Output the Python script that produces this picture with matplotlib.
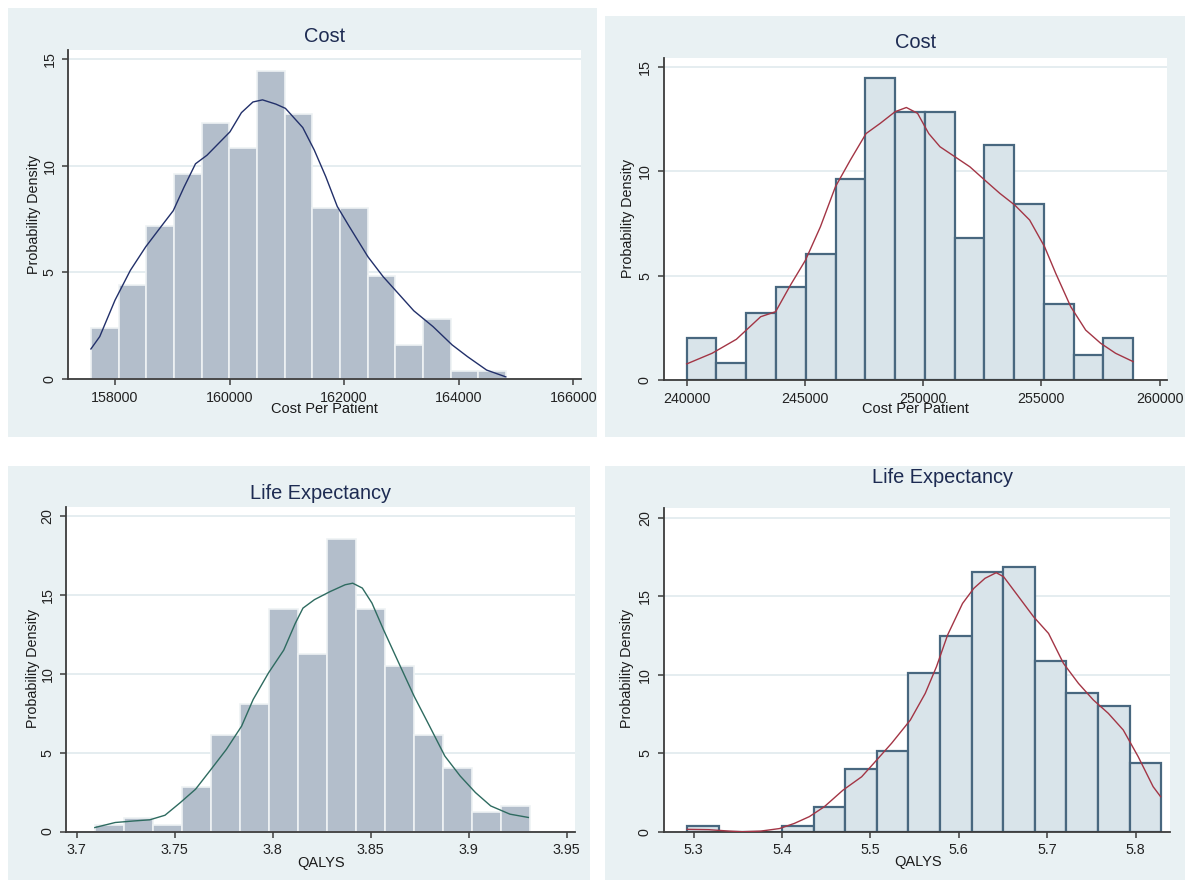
import numpy as np
import matplotlib
matplotlib.use("Agg")
import matplotlib.pyplot as plt
from matplotlib.patches import Rectangle
from matplotlib.ticker import FixedLocator, FormatStrFormatter

plt.rcParams['font.family'] = ['Liberation Sans', 'DejaVu Sans']

# ---- histogram data (density per bin) ----
cost_a_start, cost_a_width = 157579, 483
cost_a_density = [2.38, 4.41, 7.2, 9.62, 12.03, 10.83, 14.44, 12.44,
                  8.01, 8.01, 4.82, 1.6, 2.8, 0.39, 0.39]
cost_a_kde_x = [157579, 157733, 158000, 158268, 158535, 158803, 159017,
                159204, 159405, 159605, 160007, 160207, 160408, 160575,
                160809, 160976, 161278, 161478, 161679, 161880, 162080,
                162415, 162682, 162950, 163217, 163552, 163886, 164154,
                164488, 164823]
cost_a_kde_y = [1.41, 1.99, 3.7, 5.1, 6.2, 7.15, 7.9, 9.0, 10.1, 10.5,
                11.6, 12.5, 13.0, 13.1, 12.9, 12.7, 11.8, 10.75, 9.5, 8.1,
                7.2, 5.74, 4.8, 4.0, 3.2, 2.46, 1.6, 1.05, 0.42, 0.1]

cost_b_start, cost_b_width = 240000, 1259
cost_b_density = [1.99, 0.8, 3.22, 4.44, 6.02, 9.62, 14.46, 12.85,
                  12.85, 6.81, 11.25, 8.43, 3.62, 1.2, 1.99]
cost_b_kde_x = [240000, 241074, 242101, 243128, 243760, 244392, 245024,
                245656, 246288, 246920, 247584, 248184, 248816, 249290,
                249764, 250238, 250712, 251344, 251976, 252608, 253240,
                253872, 254504, 255136, 255610, 256242, 256874, 257506,
                258138, 258881]
cost_b_kde_y = [0.77, 1.28, 1.95, 3.03, 3.27, 4.55, 5.74, 7.34, 9.25,
                10.53, 11.8, 12.29, 12.85, 13.05, 12.77, 11.8, 11.17,
                10.69, 10.21, 9.57, 8.94, 8.38, 7.66, 6.38, 5.1, 3.51,
                2.39, 1.76, 1.28, 0.88]

le_a_start, le_a_width = 3.7092, 0.01479
le_a_density = [0.42, 0.84, 0.42, 2.82, 6.09, 8.09, 14.1, 11.27, 18.52,
                14.1, 10.47, 6.09, 4.05, 1.24, 1.62]
le_a_kde_x = [3.7092, 3.7196, 3.7293, 3.7372, 3.745, 3.7528, 3.7606,
              3.7685, 3.7763, 3.7841, 3.79, 3.7978, 3.8056, 3.8115,
              3.8154, 3.8213, 3.8291, 3.8369, 3.8408, 3.8457, 3.8506,
              3.8565, 3.8643, 3.8721, 3.88, 3.8878, 3.8956, 3.9034,
              3.9112, 3.921, 3.9304]
le_a_kde_y = [0.25, 0.57, 0.67, 0.74, 1.03, 1.83, 2.68, 3.94, 5.2, 6.68,
              8.37, 10.05, 11.5, 13.2, 14.16, 14.7, 15.2, 15.64, 15.74,
              15.43, 14.48, 12.79, 10.68, 8.58, 6.68, 4.78, 3.52, 2.47,
              1.62, 1.1, 0.89]

le_b_start, le_b_width = 5.2928, 0.03575
le_b_density = [0.36, 0.0, 0.0, 0.36, 1.59, 3.99, 5.14, 10.08, 12.46,
                16.52, 16.88, 10.85, 8.81, 8.03, 4.39]
le_b_kde_x = [5.2928, 5.3169, 5.3402, 5.355, 5.3761, 5.3972, 5.4141,
              5.431, 5.4479, 5.4691, 5.4902, 5.5071, 5.524, 5.5452,
              5.5621, 5.5748, 5.5874, 5.6043, 5.617, 5.6297, 5.6424,
              5.6508, 5.6677, 5.6847, 5.7016, 5.7185, 5.7354, 5.7523,
              5.7692, 5.7861, 5.803, 5.8199, 5.8284]
le_b_kde_y = [0.15, 0.13, 0.04, 0.0, 0.04, 0.2, 0.53, 0.96, 1.59, 2.65,
              3.5, 4.56, 5.63, 7.11, 8.81, 10.51, 12.53, 14.54, 15.5,
              16.14, 16.5, 16.24, 14.97, 13.69, 12.63, 10.72, 9.45, 8.39,
              7.54, 6.48, 4.78, 2.87, 2.23]

# ---- layout (pixels, origin top-left) ----
W, H = 1185, 884
BG = '#e9f1f3'
GRID = '#e3ecef'
AXC = '#3c3c3c'


def frac(l, t, r, b):
    return [l / W, 1 - b / H, (r - l) / W, (b - t) / H]


fig = plt.figure(figsize=(W / 100, H / 100), dpi=100, facecolor='white')

frames = [(8, 8, 597, 437), (605, 16, 1185, 437),
          (8, 466, 590, 880), (605, 466, 1185, 880)]
for l, t, r, b in frames:
    x0, y0, w, h = frac(l, t, r, b)
    fig.add_artist(Rectangle((x0, y0), w, h, transform=fig.transFigure,
                             facecolor=BG, edgecolor='none', zorder=0))

panels = [
    dict(box=(68, 50, 581, 379), xlim=(157179, 166136), ylim=(0, 15.44),
         xticks=np.arange(158000, 166001, 2000), yticks=[0, 5, 10, 15],
         start=cost_a_start, width=cost_a_width, dens=cost_a_density,
         kx=cost_a_kde_x, ky=cost_a_kde_y,
         face='#b3becb', edge='#eef2f4', elw=1.2, line='#22306a',
         title='Cost', title_xy=(325, 37), xlabel='Cost Per Patient',
         xlabel_xy=(324, 409), ylabel_xy=(34, 214)),
    dict(box=(663.5, 58, 1167, 380), xlim=(239019, 260313), ylim=(0, 15.42),
         xticks=np.arange(240000, 260001, 5000), yticks=[0, 5, 10, 15],
         start=cost_b_start, width=cost_b_width, dens=cost_b_density,
         kx=cost_b_kde_x, ky=cost_b_kde_y,
         face='#d9e4ea', edge='#48677f', elw=1.6, line='#a33545',
         title='Cost', title_xy=(916, 43), xlabel='Cost Per Patient',
         xlabel_xy=(915, 409), ylabel_xy=(628, 218)),
    dict(box=(66, 507, 575, 831.5), xlim=(3.6945, 3.9542), ylim=(0, 20.57),
         xticks=np.arange(3.7, 3.951, 0.05), yticks=[0, 5, 10, 15, 20],
         start=le_a_start, width=le_a_width, dens=le_a_density,
         kx=le_a_kde_x, ky=le_a_kde_y,
         face='#b3becb', edge='#eef2f4', elw=1.2, line='#2e6b60',
         title='Life Expectancy', title_xy=(321, 493), xlabel='QALYS',
         xlabel_xy=(321, 863), ylabel_xy=(33, 668)),
    dict(box=(663.5, 508, 1170, 831.7), xlim=(5.266, 5.839), ylim=(0, 20.62),
         xticks=np.arange(5.3, 5.801, 0.1), yticks=[0, 5, 10, 15, 20],
         start=le_b_start, width=le_b_width, dens=le_b_density,
         kx=le_b_kde_x, ky=le_b_kde_y,
         face='#d9e4ea', edge='#48677f', elw=1.6, line='#a33545',
         title='Life Expectancy', title_xy=(943, 477), xlabel='QALYS',
         xlabel_xy=(918, 862), ylabel_xy=(627, 668)),
]

for p in panels:
    l, t, r, b = p['box']
    ax = fig.add_axes(frac(l, t, r, b))
    ax.set_facecolor('white')

    dens = np.array(p['dens'])
    lefts = p['start'] + p['width'] * np.arange(len(dens))
    ax.bar(lefts, dens, width=p['width'], align='edge', color=p['face'],
           edgecolor=p['edge'], linewidth=p['elw'], zorder=2)
    ax.plot(p['kx'], p['ky'], color=p['line'], lw=1.0, zorder=3)

    ax.set_xlim(*p['xlim'])
    ax.set_ylim(*p['ylim'])
    ax.xaxis.set_major_locator(FixedLocator(p['xticks']))
    ax.yaxis.set_major_locator(FixedLocator(p['yticks']))
    ax.xaxis.set_major_formatter(FormatStrFormatter('%g'))
    ax.yaxis.set_major_formatter(FormatStrFormatter('%g'))
    ax.grid(axis='y', color=GRID, lw=1.3, zorder=1)
    ax.set_axisbelow(True)

    for s in ['top', 'right']:
        ax.spines[s].set_visible(False)
    for s in ['left', 'bottom']:
        ax.spines[s].set_color(AXC)
        ax.spines[s].set_linewidth(1.3)
    ax.tick_params(axis='both', colors=AXC, width=1.1, length=4.3,
                   labelsize=10.3, labelcolor='#222222', pad=4)
    ax.tick_params(axis='y', labelrotation=90)
    for lab in ax.get_yticklabels():
        lab.set_va('center')

    wpx, hpx = r - l, b - t
    tx, ty = p['title_xy']
    ax.text((tx - l) / wpx, (b - ty) / hpx, p['title'], transform=ax.transAxes,
            ha='center', va='center', fontsize=14.4, color='#1d2b52')
    ax.set_xlabel(p['xlabel'], fontsize=10.5, color='#1a1a1a')
    ax.xaxis.set_label_coords((p['xlabel_xy'][0] - l) / wpx,
                              (b - p['xlabel_xy'][1]) / hpx)
    ax.xaxis.label.set_va('center')
    ax.set_ylabel('Probability Density', fontsize=10.3, color='#1a1a1a')
    ax.yaxis.set_label_coords((p['ylabel_xy'][0] - l) / wpx,
                              (b - p['ylabel_xy'][1]) / hpx)
    ax.yaxis.label.set_va('center')

fig.savefig('out.png', dpi=100, facecolor='white')
